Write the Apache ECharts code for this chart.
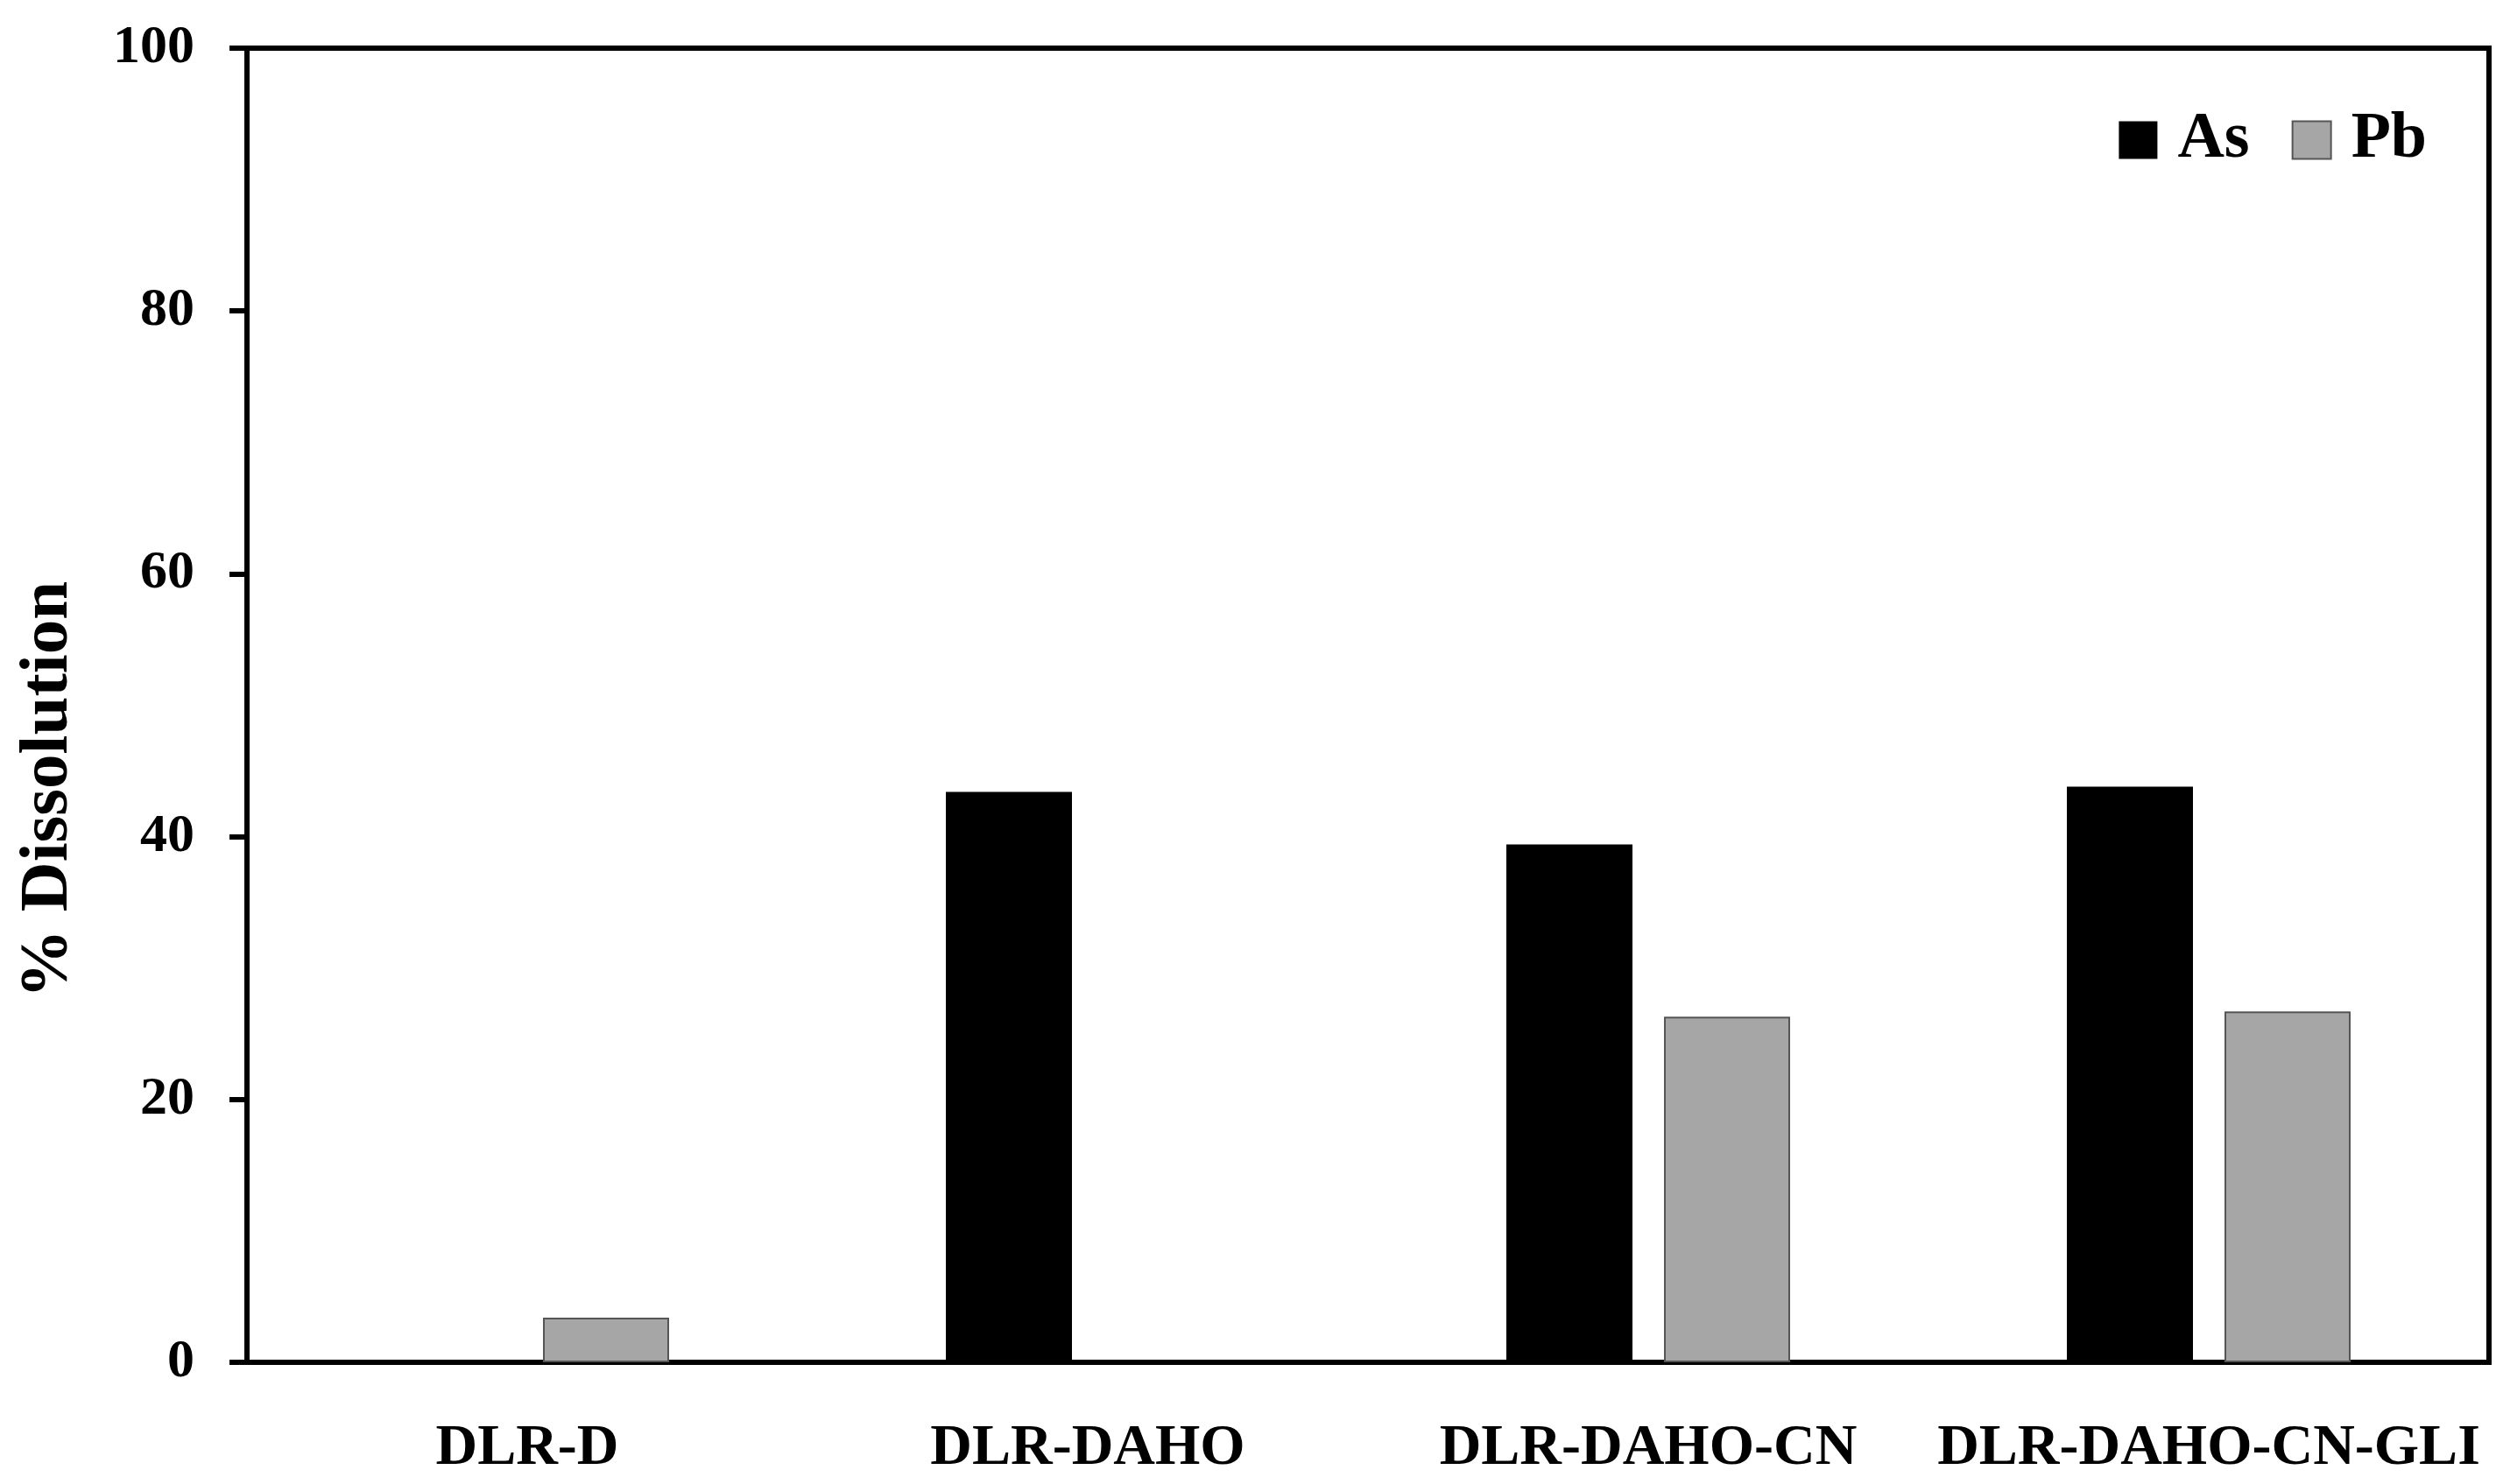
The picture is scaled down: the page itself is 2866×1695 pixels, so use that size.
<!DOCTYPE html>
<html>
<head>
<meta charset="utf-8">
<script src="https://cdn.jsdelivr.net/npm/echarts@6/dist/echarts.min.js"></script>
<style>
html,body{margin:0;padding:0;background:#fff;}
#chart{width:2866px;height:1695px;}
</style>
</head>
<body>
<div id="chart"></div>
<script>
const categories = ['DLR-D', 'DLR-DAHO', 'DLR-DAHO-CN', 'DLR-DAHO-CN-GLI'];
const asValues = [0, 43.4, 39.4, 43.8];
const pbValues = [3.4, 0, 26.3, 26.7];
const yTicks = [0, 20, 40, 60, 80, 100];
const yTitle = '% Dissolution';

const FONT = '"Liberation Serif", "Times New Roman", serif';
// zero-height bars should not show an outline
const withHiddenZero = vals => vals.map(v => v === 0 ? { value: v, itemStyle: { borderWidth: 0 } } : v);

const chart = echarts.init(document.getElementById('chart'));
chart.setOption({
  backgroundColor: '#fff',
  animation: false,
  grid: {
    left: 282, right: 24, top: 55, bottom: 139,
    show: true, borderColor: '#000', borderWidth: 6, backgroundColor: 'transparent'
  },
  legend: {
    right: 90, top: 118,
    itemWidth: 44, itemHeight: 43, itemGap: 48,
    icon: 'rect',
    textStyle: { fontFamily: FONT, fontWeight: 'bold', fontSize: 74, color: '#000', padding: [0, 0, 0, 18] },
    data: ['As', 'Pb']
  },
  xAxis: {
    type: 'category',
    data: categories,
    axisLine: { lineStyle: { color: '#000', width: 6 } },
    axisTick: { show: false },
    axisLabel: { fontFamily: FONT, fontWeight: 'bold', fontSize: 66, color: '#000', margin: 66, interval: 0 }
  },
  yAxis: {
    type: 'value',
    min: yTicks[0], max: yTicks[yTicks.length - 1], interval: yTicks[1] - yTicks[0],
    axisLine: { show: true, lineStyle: { color: '#000', width: 6 } },
    axisTick: { show: true, length: 20, lineStyle: { color: '#000', width: 6 } },
    splitLine: { show: false },
    axisLabel: { fontFamily: FONT, fontWeight: 'bold', fontSize: 62, color: '#000', margin: 60 }
  },
  graphic: [{
    type: 'text',
    x: 56, y: 902,
    rotation: Math.PI / 2,
    style: {
      text: yTitle,
      fontFamily: FONT, fontWeight: 'bold', fontSize: 79, fill: '#000',
      textAlign: 'center', textVerticalAlign: 'middle'
    }
  }],
  series: [
    {
      name: 'As', type: 'bar', data: asValues,
      barWidth: 144, barGap: '25%',
      itemStyle: { color: '#000', borderWidth: 0 }
    },
    {
      name: 'Pb', type: 'bar', data: withHiddenZero(pbValues),
      barWidth: 144,
      itemStyle: { color: '#a6a6a6', borderColor: '#555', borderWidth: 2 }
    }
  ]
});
</script>
</body>
</html>
